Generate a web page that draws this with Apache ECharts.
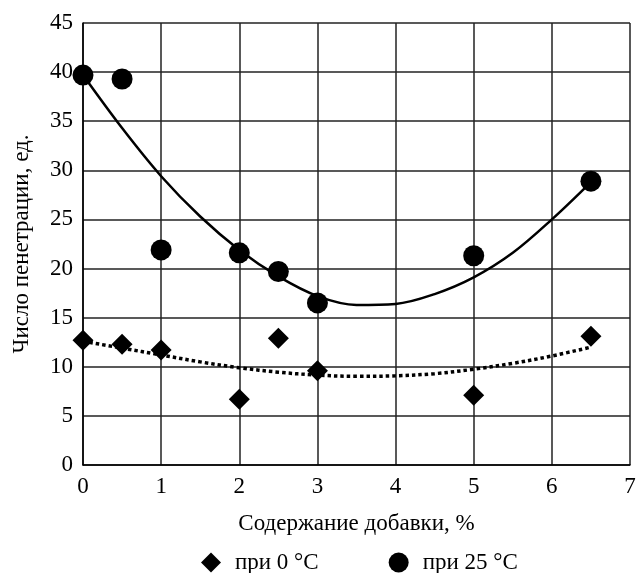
<!DOCTYPE html>
<html>
<head>
<meta charset="utf-8">
<script src="https://cdn.jsdelivr.net/npm/echarts@6/dist/echarts.min.js"></script>
<style>
  html, body { margin: 0; padding: 0; background: #fff; }
  #plot { width: 638px; height: 573px; }
</style>
</head>
<body>
<div id="plot"></div>
<script>
// точки измерений
var additive = [0, 0.5, 1, 2, 2.5, 3, 5, 6.5];
var pen0 = [12.7, 12.3, 11.7, 6.7, 12.9, 9.6, 7.1, 13.1];
var pen25 = [39.7, 39.3, 21.9, 21.6, 19.7, 16.5, 21.3, 28.9];

// линии тренда
var trendX = [0, 0.5, 1, 1.5, 2, 2.5, 3, 3.5, 4, 4.5, 5, 5.5, 6, 6.5];
var trend0 = [12.6, 11.9, 11.2, 10.5, 9.9, 9.45, 9.15, 9.03, 9.08, 9.3, 9.75, 10.35, 11.1, 12.0];
var trend25 = [39.7, 34.3, 29.4, 25.3, 21.9, 19.2, 17.2, 16.3, 16.4, 17.4, 19.1, 21.6, 25.0, 28.8];

var seriesNames = ['при 0 °C', 'при 25 °C'];
var xName = 'Содержание добавки, %';
var yName = 'Число пенетрации, ед.';

function pairs(xs, ys) {
  return xs.map(function (x, i) { return [x, ys[i]]; });
}

var font = "'Liberation Serif', 'Times New Roman', serif";
var chart = echarts.init(document.getElementById('plot'));

var option = {
  backgroundColor: '#fff',
  animation: false,
  textStyle: { fontFamily: font, color: '#000' },
  grid: { left: 83, right: 8, top: 23, bottom: 108, outerBoundsMode: 'none', containLabel: false },
  xAxis: {
    type: 'value',
    min: 0, max: 7, interval: 1,
    name: xName,
    nameLocation: 'middle',
    nameGap: 47,
    nameTextStyle: { fontFamily: font, fontSize: 23, color: '#000' },
    axisLine: { lineStyle: { color: '#000', width: 1.5 } },
    axisTick: { show: false },
    axisLabel: { fontFamily: font, fontSize: 23, color: '#000', margin: 10 },
    splitLine: { show: true, lineStyle: { color: '#222', width: 1.5 } }
  },
  yAxis: {
    type: 'value',
    min: 0, max: 45, interval: 5,
    name: yName,
    nameLocation: 'middle',
    nameGap: 50,
    nameTextStyle: { fontFamily: font, fontSize: 23, color: '#000' },
    axisLine: { show: true, lineStyle: { color: '#000', width: 1.5 } },
    axisTick: { show: false },
    axisLabel: { fontFamily: font, fontSize: 23, color: '#000', margin: 10 },
    splitLine: { show: true, lineStyle: { color: '#222', width: 1.5 } }
  },
  legend: {
    data: seriesNames,
    left: 196,
    top: 546,
    itemWidth: 20,
    itemHeight: 20,
    itemGap: 70,
    textStyle: { fontFamily: font, fontSize: 23, color: '#000', padding: [0, 0, 0, 9] }
  },
  series: [
    {
      name: 'тренд 0',
      type: 'line',
      data: pairs(trendX, trend0),
      smooth: 0.35,
      showSymbol: false,
      silent: true,
      lineStyle: { color: '#000', width: 3.5, type: [3.5, 3], cap: 'butt' },
      z: 1
    },
    {
      name: 'тренд 25',
      type: 'line',
      data: pairs(trendX, trend25),
      smooth: 0.35,
      showSymbol: false,
      silent: true,
      lineStyle: { color: '#000', width: 2.5 },
      z: 1
    },
    {
      name: seriesNames[0],
      type: 'scatter',
      symbol: 'diamond',
      symbolSize: 21,
      data: pairs(additive, pen0),
      itemStyle: { color: '#000', opacity: 1 },
      z: 3
    },
    {
      name: seriesNames[1],
      type: 'scatter',
      symbol: 'circle',
      symbolSize: 21,
      data: pairs(additive, pen25),
      itemStyle: { color: '#000', opacity: 1 },
      z: 3
    }
  ]
};

chart.setOption(option);
</script>
</body>
</html>
